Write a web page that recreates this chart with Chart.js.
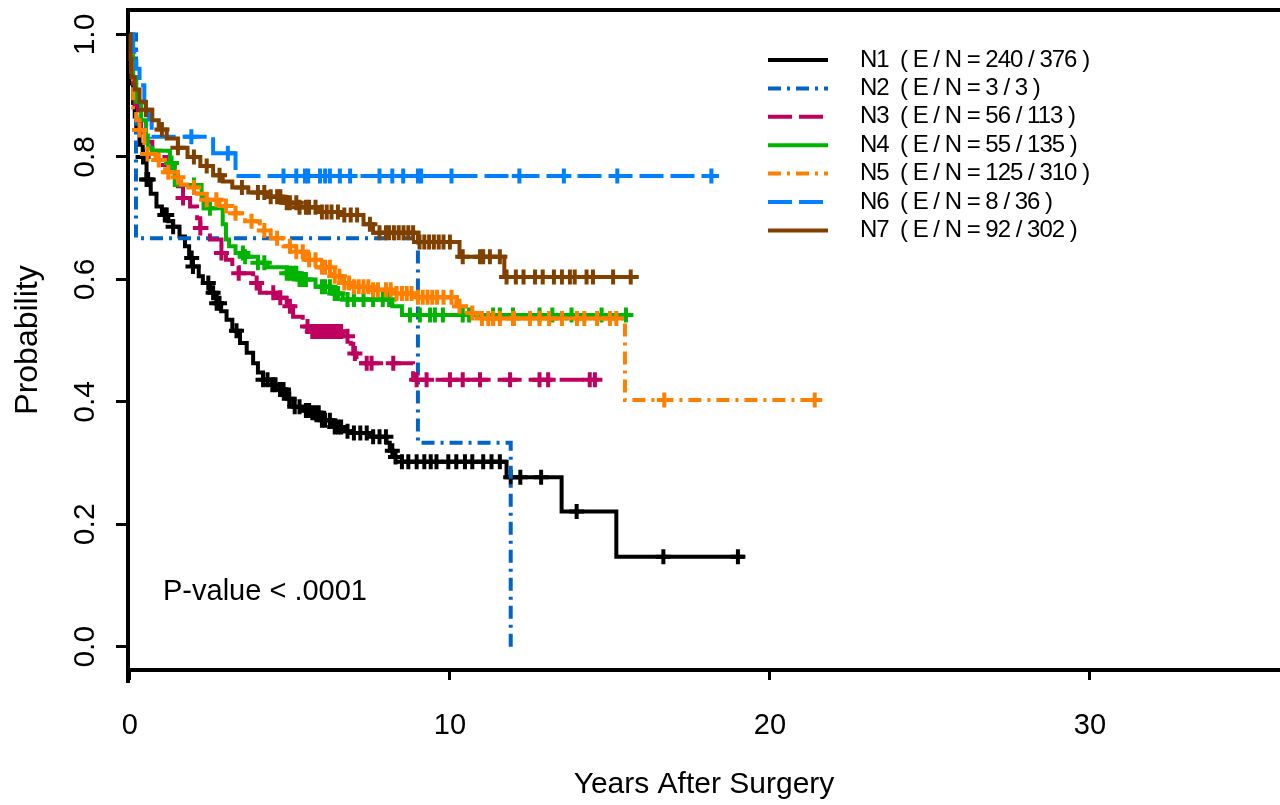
<!DOCTYPE html>
<html>
<head>
<meta charset="utf-8">
<title>Kaplan-Meier</title>
<script src="https://cdn.jsdelivr.net/npm/chart.js@4.4.1/dist/chart.umd.min.js"></script>
<style>
  html, body { margin: 0; padding: 0; background: #fff; overflow: hidden; }
  #wrap { width: 1280px; height: 805px; position: relative; }
  #km { display: block; }
</style>
</head>
<body>
<div id="wrap"><canvas id="km"></canvas></div>
<script>
// ---- data ----
const xTickValues = [0, 10, 20, 30];
const yTickValues = [0, 0.2, 0.4, 0.6, 0.8, 1.0];

const groupLabels = [
  'N1  ( E / N = 240 / 376 )',
  'N2  ( E / N = 3 / 3 )',
  'N3  ( E / N = 56 / 113 )',
  'N4  ( E / N = 55 / 135 )',
  'N5  ( E / N = 125 / 310 )',
  'N6  ( E / N = 8 / 36 )',
  'N7  ( E / N = 92 / 302 )'
];

// step times (years) and survival after each step; last entry = end of follow-up
const n1Times = [0, 0.03, 0.06, 0.1, 0.15, 0.2, 0.3, 0.4, 0.52, 0.65, 0.83, 1.0, 1.2, 1.35, 1.55, 1.72, 1.85, 1.97, 2.15, 2.28, 2.5, 2.71, 2.85, 3.02, 3.2, 3.44, 3.65, 3.85, 4.0, 4.16, 4.45, 4.69, 4.9, 5.1, 5.4, 5.7, 6.0, 6.35, 6.7, 6.98, 7.6, 8.02, 8.12, 8.23, 8.5, 11.77, 13.49, 15.2, 19.2];
const n1Surv = [1.0, 0.96, 0.92, 0.888, 0.866, 0.85, 0.82, 0.80, 0.763, 0.74, 0.719, 0.705, 0.695, 0.686, 0.67, 0.654, 0.635, 0.621, 0.605, 0.594, 0.578, 0.561, 0.548, 0.534, 0.516, 0.496, 0.48, 0.463, 0.448, 0.436, 0.428, 0.42, 0.405, 0.392, 0.386, 0.382, 0.37, 0.359, 0.352, 0.349, 0.343, 0.333, 0.32, 0.31, 0.302, 0.277, 0.221, 0.147, 0.147];
const n1Censor = [0.41, 0.52, 0.57, 1.09, 1.15, 1.35, 1.93, 1.97, 2.45, 2.6, 2.71, 2.8, 3.33, 4.16, 4.3, 4.45, 4.55, 4.69, 4.8, 4.98, 5.15, 5.3, 5.5, 5.6, 5.7, 5.8, 5.9, 6.0, 6.1, 6.25, 6.4, 6.5, 6.6, 6.8, 7.0, 7.2, 7.4, 7.6, 7.8, 8.0, 8.2, 8.3, 8.5, 8.7, 8.96, 9.2, 9.4, 9.58, 9.95, 10.2, 10.47, 10.7, 11.04, 11.3, 11.56, 11.9, 12.2, 12.85, 13.96, 16.67, 19.0];

const n2Times = [0, 0.19, 9.0, 11.9];
const n2Surv = [1.0, 0.667, 0.333, 0.0];
const n2Censor = [];

const n3Times = [0, 0.05, 0.1, 0.15, 0.25, 0.35, 0.47, 0.7, 0.95, 1.2, 1.4, 1.5, 1.66, 1.88, 2.1, 2.2, 2.5, 2.86, 3.0, 3.2, 3.4, 3.85, 4.06, 4.58, 4.9, 5.1, 5.4, 5.6, 6.65, 6.9, 6.98, 7.08, 8.85, 14.6];
const n3Surv = [1.0, 0.96, 0.92, 0.885, 0.86, 0.84, 0.825, 0.81, 0.80, 0.787, 0.77, 0.752, 0.733, 0.719, 0.70, 0.684, 0.665, 0.643, 0.632, 0.62, 0.61, 0.594, 0.578, 0.57, 0.556, 0.539, 0.523, 0.515, 0.507, 0.495, 0.479, 0.463, 0.436, 0.436];
const n3Censor = [1.2, 1.66, 2.2, 2.86, 3.4, 3.96, 4.48, 4.7, 5.0, 5.55, 5.7, 5.8, 5.9, 6.0, 6.1, 6.2, 6.3, 6.4, 6.5, 6.6, 6.8, 7.03, 7.4, 7.55, 8.23, 8.96, 9.27, 10.0, 10.4, 10.94, 11.88, 12.8, 13.07, 14.37, 14.53];

const n4Times = [0, 0.1, 0.2, 0.35, 0.5, 0.56, 0.7, 1.25, 1.4, 2.24, 2.3, 2.9, 3.0, 3.1, 3.3, 3.6, 4.0, 4.3, 4.9, 5.3, 5.8, 6.3, 6.65, 8.2, 8.5, 15.6];
const n4Surv = [1.0, 0.93, 0.89, 0.86, 0.835, 0.815, 0.81, 0.79, 0.754, 0.735, 0.716, 0.69, 0.665, 0.654, 0.643, 0.637, 0.627, 0.62, 0.61, 0.60, 0.588, 0.577, 0.567, 0.556, 0.542, 0.542];
const n4Censor = [1.3, 2.0, 2.5, 3.53, 3.6, 4.0, 4.2, 4.9, 5.0, 5.1, 5.2, 5.3, 5.4, 5.5, 6.0, 6.1, 6.25, 6.4, 6.5, 6.8, 7.0, 7.3, 7.6, 7.9, 8.1, 8.75, 9.06, 9.38, 9.53, 9.78, 10.4, 10.6, 11.35, 11.56, 11.97, 12.8, 13.2, 13.8, 14.74, 15.5];

const n5Times = [0, 0.05, 0.1, 0.2, 0.3, 0.45, 0.55, 0.8, 1.1, 1.35, 1.6, 1.78, 2.1, 2.4, 2.8, 3.2, 3.6, 4.06, 4.4, 4.8, 5.1, 5.5, 5.9, 6.3, 6.65, 7.0, 7.5, 8.2, 9.0, 10.2, 10.5, 10.85, 15.47, 21.5];
const n5Surv = [1.0, 0.93, 0.877, 0.86, 0.844, 0.817, 0.805, 0.795, 0.775, 0.767, 0.755, 0.75, 0.74, 0.73, 0.72, 0.708, 0.695, 0.68, 0.667, 0.654, 0.645, 0.632, 0.62, 0.605, 0.594, 0.588, 0.583, 0.577, 0.571, 0.556, 0.545, 0.536, 0.403, 0.403];
const n5Censor = [0.3, 0.55, 0.9, 1.2, 1.5, 2.0, 2.4, 2.7, 3.0, 3.3, 3.8, 4.2, 4.6, 5.0, 5.2, 5.4, 5.6, 5.8, 6.0, 6.1, 6.25, 6.4, 6.55, 6.7, 6.85, 7.0, 7.15, 7.3, 7.45, 7.6, 7.75, 8.0, 8.15, 8.33, 8.5, 8.65, 8.8, 9.0, 9.15, 9.3, 9.45, 9.6, 9.8, 10.05, 10.3, 10.7, 11.0, 11.2, 11.35, 11.56, 11.97, 12.0, 12.5, 12.8, 13.1, 13.5, 13.97, 14.2, 14.6, 15.0, 15.2, 16.7, 21.4];

const n6Times = [0, 0.1, 0.2, 0.3, 0.45, 0.6, 0.68, 2.6, 3.3, 18.4];
const n6Surv = [1.0, 0.972, 0.944, 0.917, 0.889, 0.861, 0.833, 0.806, 0.769, 0.769];
const n6Censor = [1.92, 3.06, 4.8, 5.2, 5.47, 5.57, 5.94, 6.1, 6.25, 6.56, 6.88, 7.8, 8.2, 8.54, 9.0, 9.1, 10.05, 12.17, 13.56, 15.23, 18.17];

const n7Times = [0, 0.02, 0.05, 0.15, 0.3, 0.5, 0.7, 0.9, 1.15, 1.5, 1.8, 2.2, 2.6, 2.9, 3.2, 3.7, 4.3, 4.8, 5.3, 5.9, 6.6, 7.3, 7.6, 9.0, 10.3, 11.7, 15.9];
const n7Surv = [1.0, 0.96, 0.93, 0.91, 0.89, 0.877, 0.86, 0.845, 0.83, 0.815, 0.80, 0.785, 0.77, 0.76, 0.75, 0.742, 0.735, 0.725, 0.718, 0.71, 0.705, 0.69, 0.676, 0.661, 0.637, 0.604, 0.604];
const n7Censor = [0.5, 1.0, 1.5, 2.0, 2.4, 2.8, 3.5, 4.0, 4.2, 4.4, 4.6, 4.7, 4.9, 5.0, 5.2, 5.3, 5.5, 5.6, 5.8, 6.0, 6.15, 6.3, 6.5, 6.7, 6.9, 7.1, 7.5, 7.8, 8.0, 8.1, 8.25, 8.4, 8.55, 8.7, 8.85, 9.05, 9.2, 9.35, 9.5, 9.65, 9.8, 10.0, 10.4, 10.94, 11.04, 11.25, 11.56, 11.77, 12.06, 12.3, 12.66, 12.9, 13.25, 13.5, 13.75, 13.9, 14.27, 14.47, 15.1, 15.65];

// ---- styles ----
const groupColors = ['#000000', '#0064C8', '#BE005F', '#00B400', '#FF8000', '#0080FF', '#804000'];
const groupDashes = [[], [13, 6, 3, 6], [24, 7], [], [13, 6, 3, 6], [24, 7], []];
const FONT = '"Liberation Sans", Arial, Helvetica, sans-serif';

const groups = [
  [n1Times, n1Surv, n1Censor],
  [n2Times, n2Surv, n2Censor],
  [n3Times, n3Surv, n3Censor],
  [n4Times, n4Surv, n4Censor],
  [n5Times, n5Surv, n5Censor],
  [n6Times, n6Surv, n6Censor],
  [n7Times, n7Surv, n7Censor]
];

// survival value in force at time t (step function lookup)
function survAt(times, surv, t) {
  let v = surv[0];
  for (let i = 0; i < times.length; i++) {
    if (times[i] <= t) v = surv[i];
  }
  return v;
}

const datasets = [];
groups.forEach(([times, surv, censor], gi) => {
  datasets.push({
    type: 'line',
    label: groupLabels[gi],
    data: times.map((t, i) => ({ x: t, y: surv[i] })),
    stepped: 'before',
    borderColor: groupColors[gi],
    borderWidth: 4,
    borderDash: groupDashes[gi],
    pointRadius: 0,
    fill: false,
    order: 20 - gi
  });
  datasets.push({
    type: 'scatter',
    label: groupLabels[gi] + ' censored',
    data: censor.map(t => ({ x: t, y: survAt(times, surv, t) })),
    pointStyle: 'cross',
    pointRadius: 7.5,
    borderWidth: 4,
    borderColor: groupColors[gi],
    backgroundColor: groupColors[gi],
    order: 20 - gi
  });
});

const kmDecor = {
  id: 'kmDecor',
  afterDraw(chart) {
    const ctx = chart.ctx;
    const a = chart.chartArea;
    ctx.save();
    // top frame line and the little overhang of the left axis
    ctx.strokeStyle = '#000';
    ctx.lineWidth = 4;
    ctx.beginPath();
    ctx.moveTo(a.left - 2, a.top);
    ctx.lineTo(a.right, a.top);
    ctx.moveTo(a.left, a.bottom);
    ctx.lineTo(a.left, a.bottom + 13);
    ctx.stroke();

    // legend
    ctx.font = '24px ' + FONT;
    ctx.letterSpacing = '-1px';
    ctx.textAlign = 'left';
    ctx.textBaseline = 'middle';
    groupLabels.forEach((txt, i) => {
      const y = 60 + i * 28.4;
      ctx.setLineDash(groupDashes[i]);
      ctx.strokeStyle = groupColors[i];
      ctx.lineWidth = 4;
      ctx.beginPath();
      ctx.moveTo(768, y);
      ctx.lineTo(828, y);
      ctx.stroke();
      ctx.setLineDash([]);
      ctx.fillStyle = '#000';
      ctx.fillText(txt, 860, y);
    });

    ctx.letterSpacing = '0px';
    ctx.font = '29px ' + FONT;
    ctx.textBaseline = 'alphabetic';
    ctx.fillText('P-value < .0001', 163, 600);
    ctx.restore();
  }
};

new Chart(document.getElementById('km'), {
  type: 'line',
  data: { datasets },
  options: {
    responsive: true,
    maintainAspectRatio: false,
    animation: false,
    layout: { autoPadding: false, padding: { top: 10, right: 0, left: 0, bottom: 0 } },
    plugins: {
      legend: { display: false },
      tooltip: { enabled: false }
    },
    scales: {
      x: {
        type: 'linear',
        min: -0.06,
        max: 35.94,
        afterBuildTicks: s => { s.ticks = xTickValues.map(v => ({ value: v })); },
        afterFit: s => { s.height = 135; s.paddingLeft = 0; s.paddingRight = 0; },
        ticks: { color: '#000', font: { size: 29, family: FONT }, padding: 29, maxRotation: 0 },
        grid: { drawOnChartArea: false, tickLength: 10, tickWidth: 3, color: '#000' },
        border: { display: true, width: 4, color: '#000' },
        title: { display: true, text: 'Years After Surgery', color: '#000', font: { size: 30, family: FONT }, padding: { top: 0, bottom: 2 } }
      },
      y: {
        type: 'linear',
        min: -0.038,
        max: 1.04,
        afterBuildTicks: s => { s.ticks = yTickValues.map(v => ({ value: v })); },
        afterFit: s => { s.width = 128; s.paddingTop = 0; s.paddingBottom = 0; },
        ticks: {
          color: '#000', font: { size: 30, family: FONT }, padding: 9,
          minRotation: 90, maxRotation: 90, crossAlign: 'center',
          callback: v => v.toFixed(1)
        },
        grid: { drawOnChartArea: false, tickLength: 12, tickWidth: 3, color: '#000' },
        border: { display: true, width: 4, color: '#000' },
        title: { display: true, text: 'Probability', color: '#000', font: { size: 32, family: FONT }, padding: { top: 9, bottom: 0 } }
      }
    }
  },
  plugins: [kmDecor]
});
</script>
</body>
</html>
